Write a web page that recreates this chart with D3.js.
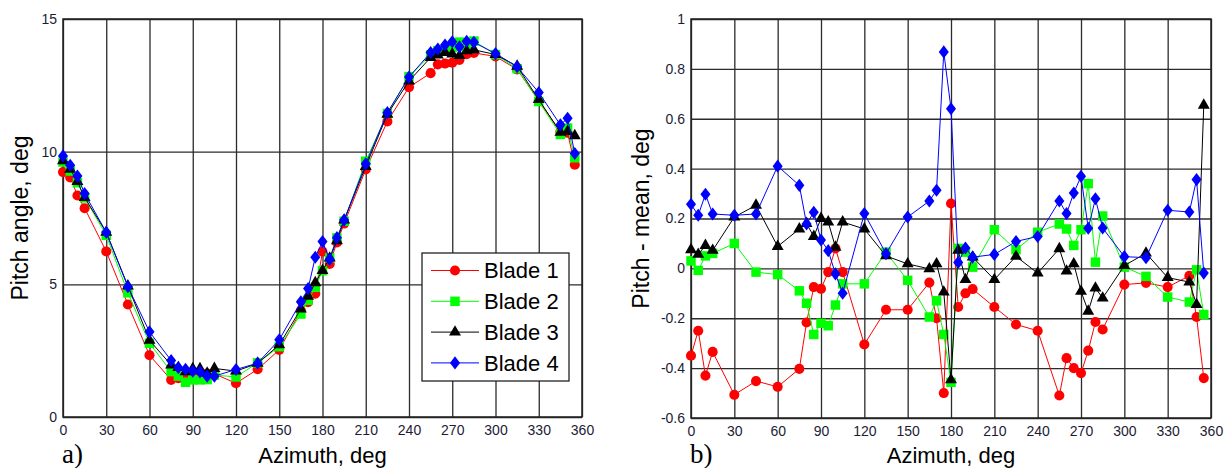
<!DOCTYPE html>
<html>
<head>
<meta charset="utf-8">
<script src="https://cdn.jsdelivr.net/npm/d3@7"></script>
<style>
  body { margin: 0; background: #fff; }
  svg { display: block; font-family: Arial, "Liberation Sans", sans-serif; }
</style>
</head>
<body>
<svg id="chart" width="1224" height="468"></svg>
<script>
// azimuth bins shared by all blades (deg)
const azimuth = [0, 5, 10, 15, 30, 45, 60, 75, 80, 85, 90, 95, 100, 105, 120, 135, 150, 165, 170, 175,
  180, 185, 190, 195, 210, 225, 240, 255, 260, 265, 270, 275, 280, 285, 300, 315, 330, 345, 350, 355];

// a) pitch angle, deg
const pitchBlade1 = [9.23, 9.03, 8.35, 7.87, 6.24, 4.24, 2.33, 1.40, 1.46, 1.50, 1.54, 1.62, 1.64, 1.63, 1.27, 1.80, 2.53, 4.01, 4.33, 4.65,
  6.23, 5.77, 6.58, 7.29, 9.33, 11.14, 12.43, 12.96, 13.29, 13.32, 13.35, 13.46, 13.67, 13.72, 13.59, 13.10, 11.93, 10.75, 10.71, 9.51];
const pitchBlade2 = [9.61, 9.27, 8.83, 8.26, 6.85, 4.68, 2.78, 1.71, 1.54, 1.31, 1.40, 1.40, 1.41, 1.58, 1.51, 2.04, 2.65, 3.88, 4.40, 4.89,
  5.51, 6.00, 6.75, 7.38, 9.64, 11.44, 12.83, 13.65, 13.81, 13.81, 13.93, 14.13, 13.91, 14.17, 13.66, 13.13, 11.89, 10.65, 10.89, 9.77];
const pitchBlade3 = [9.66, 9.34, 8.87, 8.27, 6.96, 4.94, 2.89, 1.96, 1.86, 1.70, 1.82, 1.82, 1.65, 1.83, 1.73, 2.02, 2.72, 4.07, 4.55, 5.06,
  5.52, 5.99, 6.64, 7.42, 9.44, 11.41, 12.66, 13.55, 13.64, 13.74, 13.68, 13.62, 13.80, 13.84, 13.66, 13.22, 11.96, 10.73, 10.76, 10.60];
const pitchBlade4 = [9.84, 9.49, 9.08, 8.42, 6.96, 4.91, 3.21, 2.13, 1.86, 1.80, 1.73, 1.70, 1.54, 1.54, 1.79, 2.03, 2.91, 4.34, 4.84, 6.02,
  6.61, 5.94, 6.76, 7.42, 9.54, 11.47, 12.81, 13.74, 13.87, 14.02, 14.14, 13.95, 14.16, 14.12, 13.70, 13.20, 12.23, 11.01, 11.26, 9.93];

// b) pitch - mean, deg
const devBlade1 = [-0.35, -0.25, -0.43, -0.335, -0.507, -0.452, -0.475, -0.403, -0.217, -0.075, -0.082, -0.015, 0.08, -0.015, -0.305, -0.166, -0.166, -0.057, -0.2, -0.5,
  0.26, -0.155, -0.1, -0.083, -0.155, -0.225, -0.25, -0.51, -0.36, -0.4, -0.42, -0.33, -0.215, -0.245, -0.065, -0.058, -0.075, -0.03, -0.195, -0.44];
const devBlade2 = [0.03, -0.008, 0.05, 0.06, 0.1, -0.015, -0.025, -0.09, -0.14, -0.265, -0.22, -0.23, -0.147, -0.062, -0.062, 0.065, -0.048, -0.195, -0.13, -0.265,
  -0.457, 0.08, 0.065, 0.005, 0.155, 0.075, 0.145, 0.178, 0.158, 0.092, 0.155, 0.34, 0.025, 0.21, 0.005, -0.032, -0.115, -0.135, -0.006, -0.185];
const devBlade3 = [0.075, 0.056, 0.092, 0.072, 0.206, 0.253, 0.088, 0.158, 0.18, 0.128, 0.2, 0.186, 0.085, 0.186, 0.158, 0.05, 0.018, -0.002, 0.018, -0.095,
  -0.447, 0.072, -0.045, 0.045, -0.045, 0.048, -0.019, 0.079, -0.011, 0.018, -0.092, -0.172, -0.079, -0.119, 0.011, 0.061, -0.037, -0.055, -0.145, 0.654];
const devBlade4 = [0.257, 0.213, 0.297, 0.218, 0.213, 0.218, 0.41, 0.333, 0.178, 0.225, 0.114, 0.071, -0.022, -0.1, 0.22, 0.059, 0.206, 0.27, 0.313, 0.868,
  0.64, 0.024, 0.082, 0.045, 0.056, 0.108, 0.128, 0.27, 0.22, 0.302, 0.369, 0.161, 0.279, 0.162, 0.047, 0.043, 0.233, 0.226, 0.356, -0.019];

const bladeNames = ['Blade 1', 'Blade 2', 'Blade 3', 'Blade 4'];
const azimuthTicks = [0, 30, 60, 90, 120, 150, 180, 210, 240, 270, 300, 330, 360];
const pitchTicks = [0, 5, 10, 15];
const devTicks = [-0.6, -0.4, -0.2, 0, 0.2, 0.4, 0.6, 0.8, 1];

// wider diamond than d3.symbolDiamond
const wideDiamond = {
  draw(ctx, size) {
    const w = Math.sqrt(size / 2.6), h = w * 1.3;
    ctx.moveTo(0, -h); ctx.lineTo(w, 0); ctx.lineTo(0, h); ctx.lineTo(-w, 0); ctx.closePath();
  }
};

const bladeStyle = [
  {color: '#ff0000', symbol: d3.symbolCircle, size: 80},
  {color: '#00ff00', symbol: d3.symbolSquare, size: 90},
  {color: '#000000', symbol: d3.symbolTriangle, size: 62},
  {color: '#0000ff', symbol: wideDiamond, size: 66}
];

const svg = d3.select('#chart');

function drawPanel(p) {
  const x = d3.scaleLinear().domain([0, 360]).range([p.left, p.right]);
  const y = d3.scaleLinear().domain(p.yDomain).range([p.bottom, p.top]);
  const w = p.right - p.left, h = p.bottom - p.top;
  const g = svg.append('g');

  const gx = g.append('g')
    .attr('transform', `translate(0,${p.bottom})`)
    .call(d3.axisBottom(x).tickValues(azimuthTicks).tickSize(-h).tickPadding(8).tickFormat(d => String(d)));
  const gy = g.append('g')
    .attr('transform', `translate(${p.left},0)`)
    .call(d3.axisLeft(y).tickValues(p.yTicks).tickSize(-w).tickPadding(6).tickFormat(d => String(d)));

  [gx, gy].forEach(a => {
    a.select('.domain').remove();
    a.attr('font-family', 'Arial, "Liberation Sans", sans-serif').attr('font-size', 14);
    a.selectAll('.tick line').attr('stroke', '#2b2b2b').attr('stroke-width', 1.3);
    a.selectAll('.tick text').attr('fill', '#1c1c36');
  });

  g.append('rect')
    .attr('x', p.left).attr('y', p.top).attr('width', w).attr('height', h)
    .attr('fill', 'none').attr('stroke', '#222').attr('stroke-width', 1.5);

  const line = d3.line().x(d => x(d[0])).y(d => y(d[1]));
  p.series.forEach((vals, i) => {
    const st = bladeStyle[i];
    const pts = azimuth.map((a, k) => [a, vals[k]]);
    g.append('path').datum(pts)
      .attr('d', line).attr('fill', 'none').attr('stroke', st.color).attr('stroke-width', 1);
    g.append('g').selectAll('path').data(pts).join('path')
      .attr('transform', d => `translate(${x(d[0])},${y(d[1])})`)
      .attr('d', d3.symbol(st.symbol, st.size)())
      .attr('fill', st.color);
  });

  // axis titles
  g.append('text')
    .attr('x', (p.left + p.right) / 2).attr('y', 463)
    .attr('text-anchor', 'middle').attr('font-size', 22).attr('fill', '#000')
    .text('Azimuth, deg');
  g.append('text')
    .attr('transform', `translate(${p.titleX},${(p.top + p.bottom) / 2}) rotate(-90)`)
    .attr('text-anchor', 'middle').attr('font-size', 23).attr('fill', '#000')
    .text(p.yTitle);
  g.append('text')
    .attr('x', p.left - 1).attr('y', 463)
    .attr('font-family', '"Liberation Serif", "Times New Roman", serif').attr('font-size', 27).attr('fill', '#000')
    .text(p.tag);

  if (p.legend) {
    const lg = g.append('g').attr('transform', 'translate(422,253)');
    lg.append('rect').attr('width', 147).attr('height', 128)
      .attr('fill', '#fff').attr('stroke', '#222').attr('stroke-width', 1.3);
    bladeNames.forEach((name, i) => {
      const st = bladeStyle[i];
      const row = lg.append('g').attr('transform', `translate(0,${17.5 + i * 30.8})`);
      row.append('line').attr('x1', 9).attr('x2', 57).attr('stroke', st.color).attr('stroke-width', 1);
      row.append('path').attr('transform', 'translate(33,0)')
        .attr('d', d3.symbol(st.symbol, st.size)()).attr('fill', st.color);
      row.append('text').attr('x', 62).attr('dy', '0.35em')
        .attr('font-size', 22).attr('fill', '#000').text(name);
    });
  }
}

drawPanel({
  left: 63, right: 582, top: 19, bottom: 417,
  yDomain: [0, 15], yTicks: pitchTicks,
  series: [pitchBlade1, pitchBlade2, pitchBlade3, pitchBlade4],
  yTitle: 'Pitch angle, deg', titleX: 28, tag: 'a)', legend: true
});

drawPanel({
  left: 691, right: 1211, top: 19, bottom: 418,
  yDomain: [-0.6, 1], yTicks: devTicks,
  series: [devBlade1, devBlade2, devBlade3, devBlade4],
  yTitle: 'Pitch - mean, deg', titleX: 649, tag: 'b)', legend: false
});
</script>
</body>
</html>
